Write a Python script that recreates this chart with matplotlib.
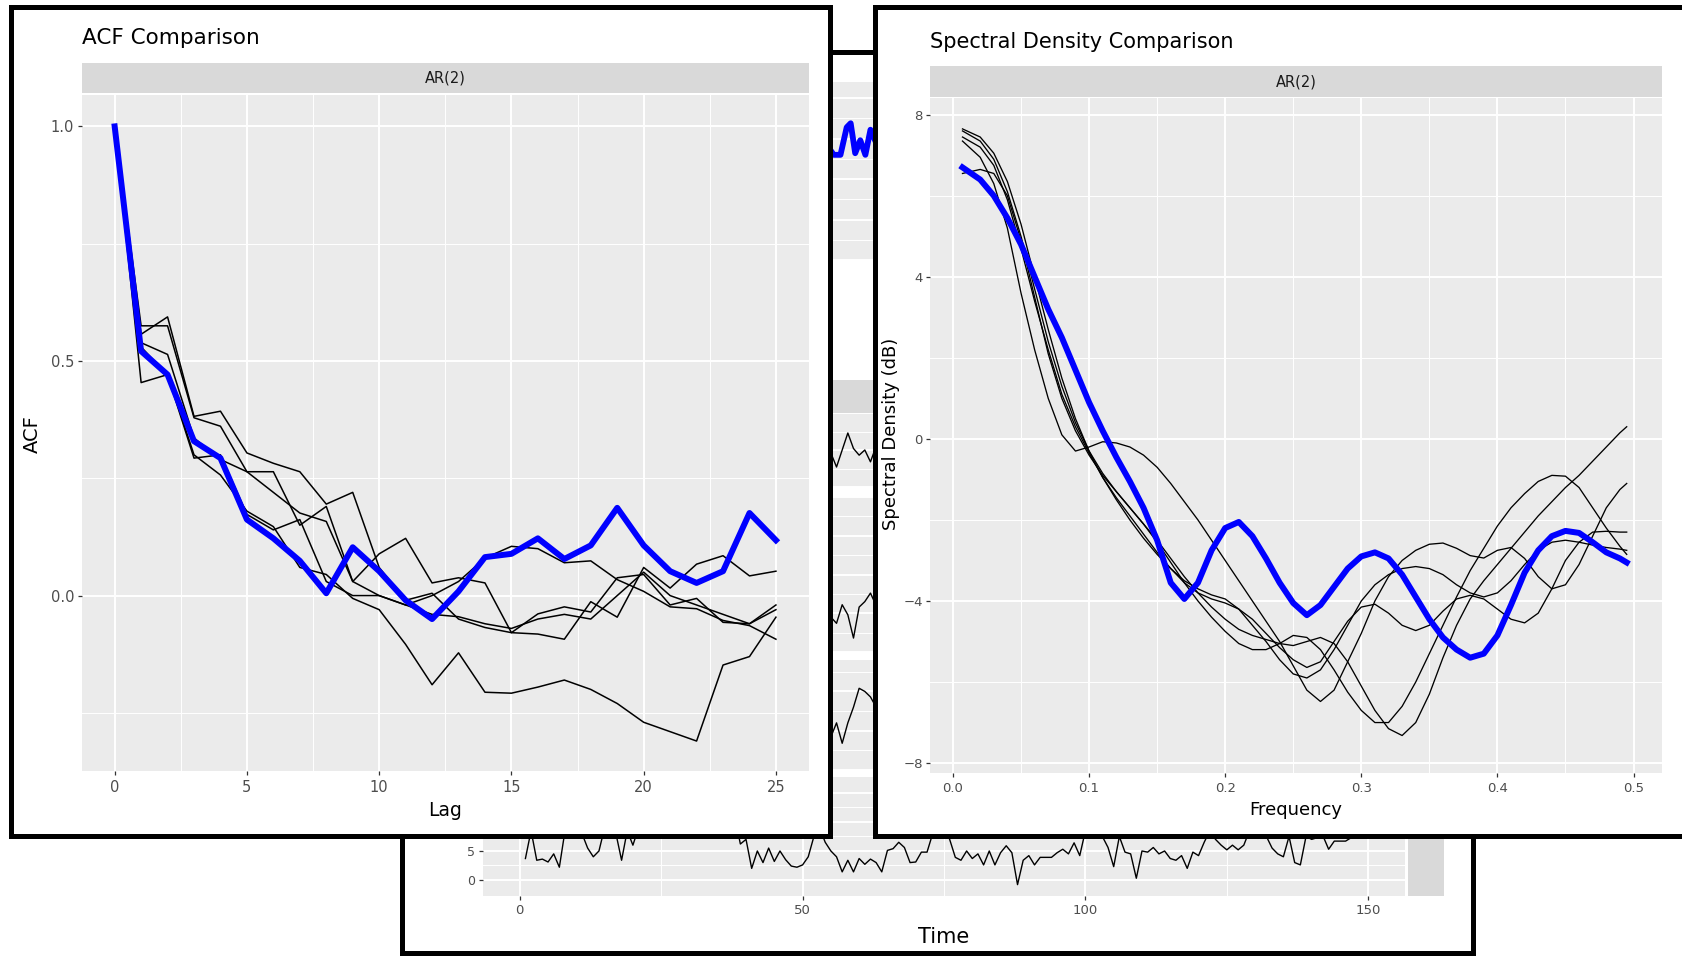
import numpy as np
import matplotlib.pyplot as plt
from matplotlib.patches import Rectangle
from matplotlib.ticker import FixedLocator

W, H = 1683, 956

# ---- ACF comparison data (lags 0..25) ----
lags = list(range(26))
acf_obs = [1.0, 0.521, 0.471, 0.329, 0.293, 0.162, 0.122, 0.074, 0.005, 0.103, 0.052, -0.01,
           -0.05, 0.009, 0.082, 0.089, 0.122, 0.078, 0.107, 0.187, 0.107, 0.052, 0.027, 0.052,
           0.176, 0.118]
acf_sim1 = [1.0, 0.557, 0.594, 0.382, 0.393, 0.304, 0.282, 0.264, 0.195, 0.22, 0.06, -0.01,
            0.005, -0.05, -0.068, -0.079, -0.082, -0.093, -0.013, -0.046, 0.06, 0.016, 0.067,
            0.085, 0.042, 0.052]
acf_sim2 = [1.0, 0.575, 0.575, 0.379, 0.361, 0.264, 0.264, 0.15, 0.19, 0.03, 0.089, 0.122,
            0.027, 0.038, 0.027, -0.079, -0.039, -0.024, -0.035, 0.038, 0.045, -0.02, -0.006,
            -0.057, -0.06, -0.02]
acf_sim3 = [1.0, 0.539, 0.514, 0.336, 0.29, 0.264, 0.22, 0.176, 0.158, 0.03, 0.0, -0.02, 0.0,
            0.03, 0.08, 0.105, 0.10, 0.07, 0.074, 0.034, 0.009, -0.024, -0.028, -0.053, -0.064,
            -0.093]
acf_sim4 = [1.0, 0.454, 0.471, 0.30, 0.257, 0.18, 0.147, 0.06, 0.045, -0.006, -0.03, -0.104,
            -0.19, -0.122, -0.206, -0.208, -0.195, -0.18, -0.2, -0.23, -0.27, -0.29, -0.31,
            -0.148, -0.13, -0.046]
acf_sim5 = [1.0, 0.53, 0.47, 0.293, 0.30, 0.173, 0.14, 0.162, 0.03, 0.0, 0.0, -0.02, -0.04,
            -0.045, -0.06, -0.07, -0.05, -0.04, -0.05, 0.0, 0.05, 0.0, -0.02, -0.04, -0.06, -0.03]

# ---- spectral density data (dB) ----
freq = [0.007] + [round(0.02 + 0.01 * i, 2) for i in range(48)] + [0.495]
spec_obs = [6.7, 6.4, 6.0, 5.45, 4.8, 4.0, 3.2, 2.5, 1.7, 0.9,
            0.2, -0.45, -1.05, -1.7, -2.5, -3.55, -3.95, -3.55, -2.75, -2.2,
            -2.05, -2.4, -2.95, -3.55, -4.05, -4.35, -4.1, -3.65, -3.2, -2.9,
            -2.8, -2.95, -3.35, -3.9, -4.45, -4.9, -5.2, -5.4, -5.3, -4.85,
            -4.1, -3.3, -2.75, -2.4, -2.27, -2.32, -2.55, -2.8, -2.95, -3.05]
spec_sim1 = [7.35, 6.95, 6.3, 5.2, 3.6, 2.2, 1.0, 0.1, -0.3, -0.2,
             -0.07, -0.1, -0.2, -0.4, -0.7, -1.1, -1.55, -2.0, -2.5, -3.0,
             -3.5, -4.0, -4.5, -5.0, -5.6, -6.2, -6.48, -6.2, -5.5, -4.8,
             -4.0, -3.4, -3.0, -2.75, -2.6, -2.57, -2.7, -2.88, -2.94, -2.75,
             -2.68, -2.95, -3.4, -3.7, -3.6, -3.1, -2.4, -1.7, -1.25, -1.1]
spec_sim2 = [7.45, 7.2, 6.75, 5.9, 4.7, 3.4, 2.2, 1.1, 0.3, -0.35,
             -0.95, -1.45, -1.9, -2.35, -2.8, -3.2, -3.55, -3.8, -3.95, -4.05,
             -4.2, -4.45, -4.8, -5.15, -5.45, -5.64, -5.5, -5.0, -4.5, -4.15,
             -4.08, -4.3, -4.6, -4.73, -4.6, -4.25, -3.95, -3.86, -3.95, -4.2,
             -4.45, -4.54, -4.3, -3.7, -3.0, -2.55, -2.3, -2.28, -2.3, -2.3]
spec_sim3 = [7.6, 7.35, 6.9, 6.1, 5.0, 3.7, 2.4, 1.3, 0.4, -0.3,
             -0.85, -1.3, -1.7, -2.1, -2.55, -3.05, -3.55, -4.0, -4.4, -4.75,
             -5.05, -5.2, -5.2, -5.05, -4.85, -4.9, -5.2, -5.7, -6.25, -6.7,
             -7.0, -7.0, -6.6, -6.0, -5.3, -4.6, -3.9, -3.25, -2.7, -2.15,
             -1.7, -1.35, -1.05, -0.9, -0.92, -1.2, -1.7, -2.2, -2.65, -2.85]
spec_sim4 = [6.55, 6.65, 6.55, 6.0, 4.9, 3.5, 2.1, 1.0, 0.2, -0.4,
             -0.9, -1.3, -1.7, -2.1, -2.5, -2.95, -3.4, -3.8, -4.15, -4.45,
             -4.7, -4.85, -4.95, -5.05, -5.1, -5.0, -4.9, -5.05, -5.5, -6.1,
             -6.7, -7.15, -7.32, -7.0, -6.3, -5.4, -4.6, -3.95, -3.5, -3.1,
             -2.7, -2.3, -1.9, -1.55, -1.2, -0.9, -0.55, -0.2, 0.15, 0.3]
spec_sim5 = [7.65, 7.45, 7.05, 6.35, 5.3, 4.0, 2.7, 1.5, 0.5, -0.3,
             -0.95, -1.5, -2.0, -2.45, -2.85, -3.2, -3.5, -3.7, -3.85, -3.95,
             -4.2, -4.6, -5.0, -5.45, -5.8, -5.9, -5.7, -5.2, -4.6, -4.0,
             -3.6, -3.35, -3.2, -3.15, -3.2, -3.35, -3.6, -3.8, -3.9, -3.8,
             -3.5, -3.1, -2.75, -2.55, -2.5, -2.55, -2.62, -2.68, -2.72, -2.75]

# ---- background time series panel (mostly hidden) ----
time_e = list(range(1, 151))
series_e = [3.7, 8.5, 3.4, 3.6, 3.1, 4.5, 2.2, 8.5, 10, 9, 8, 5.5, 4.0, 5.0, 9, 10, 8, 3.4, 8.5,
            6.0, 9, 10, 11, 9, 12, 10, 11, 13, 10, 12, 11, 9, 10, 12, 11, 10, 9, 11, 6.2, 7.0,
            2.0, 5.0, 3.0, 5.5, 3.2, 5.0, 3.5, 2.4, 2.2, 2.6, 4.0, 7.5, 9, 6.5, 5.0, 4.0, 1.4,
            3.4, 1.4, 3.7, 2.7, 3.6, 3.0, 1.4, 5.1, 5.4, 6.5, 5.6, 3.0, 3.1, 4.8, 4.8, 8, 10, 9,
            7, 3.9, 3.4, 5.0, 3.7, 4.5, 2.6, 5.0, 2.6, 4.7, 5.9, 4.7, -0.8, 3.4, 4.2, 2.6, 3.9,
            3.9, 3.9, 4.7, 5.3, 4.5, 6.4, 4.2, 8.5, 10, 8, 7.5, 5.6, 2.3, 7.5, 4.8, 4.5, 0.3,
            5.0, 4.8, 5.6, 4.5, 5.0, 3.7, 3.4, 4.2, 2.0, 4.8, 4.2, 6.5, 8.5, 7.0, 6.0, 5.2, 6.0,
            5.2, 6.0, 8.5, 10, 9, 7.5, 5.5, 4.5, 4.0, 7.5, 3.0, 2.6, 7.5, 7.0, 7.3, 7.6, 5.3,
            6.7, 6.7, 6.7, 7.3, 9, 10, 9]
time_a = [53, 54.9, 55.5, 56.7, 57.8, 58.5, 59.3, 60.2, 61.1, 62.0, 63]
series_a = [14.2, 13.6, 13.0, 13.0, 16.4, 16.9, 13.2, 14.8, 13.0, 16.1, 14.5]
time_bcd = [53, 54, 55, 56, 57, 58, 59, 60, 61, 62, 63, 64]
series_b = [5.0, 5.5, 4.6, 2.7, 5.0, 7.3, 5.2, 4.3, 5.0, 3.4, 5.5, 4.8]
series_c = [5.5, 5.0, 4.5, 3.7, 6.1, 4.8, 1.8, 5.8, 6.5, 7.6, 6.0, 5.2]
series_d = [5.5, 5.0, 4.2, 6.0, 3.4, 6.0, 8.0, 10.4, 10.0, 9.3, 8.0, 7.2]


def box(x0, y0, x1, y1):
    # pixel box (top-left origin) -> figure fraction rect
    return [x0 / W, 1 - y1 / H, (x1 - x0) / W, (y1 - y0) / H]


def frame(x0, y0, x1, y1, z):
    r = Rectangle((x0 / W, 1 - y1 / H), (x1 - x0) / W, (y1 - y0) / H,
                  transform=fig.transFigure, facecolor='white', edgecolor='black',
                  lw=3.6, zorder=z)
    fig.add_artist(r)


def gg_style(ax, fs, z):
    ax.set_zorder(z)
    ax.set_facecolor('#EBEBEB')
    for s in ax.spines.values():
        s.set_visible(False)
    ax.set_axisbelow(True)
    ax.grid(True, which='major', color='white', lw=1.4)
    ax.grid(True, which='minor', color='white', lw=0.7)
    ax.tick_params(which='major', length=2.9, width=0.9, color='#333333',
                   labelcolor='#4D4D4D', labelsize=fs, pad=2.5)
    ax.tick_params(which='minor', length=0)


def strip(rect, label, z):
    s = fig.add_axes(rect)
    s.set_zorder(z)
    s.set_facecolor('#D9D9D9')
    s.set_xticks([])
    s.set_yticks([])
    for sp in s.spines.values():
        sp.set_visible(False)
    if label:
        s.text(0.5, 0.5, label, ha='center', va='center', fontsize=10.5, color='#1A1A1A',
               transform=s.transAxes)
    return s


fig = plt.figure(figsize=(W / 100, H / 100), dpi=100)

# ================= background panel =================
frame(402, 52, 1473, 953, 1)
XL = (-6.5, 156.5)

axa = fig.add_axes(box(483, 82, 1405, 260))
gg_style(axa, 9, 2)
axa.plot(time_a, series_a, color='#0000FF', lw=4.2, solid_capstyle='round')
axa.set_xlim(*XL)
axa.set_ylim(0, 22)
axa.yaxis.set_major_locator(FixedLocator([0, 5, 10, 15, 20]))
axa.yaxis.set_minor_locator(FixedLocator([2.5, 7.5, 12.5, 17.5]))
axa.set_xticks([0, 50, 100, 150])
axa.tick_params(labelleft=False, labelbottom=False, length=0)

strip(box(483, 380, 1405, 413), '', 2)

for rect, tt, yy, yl in [(box(483, 413, 1405, 487), time_bcd, series_b, (0, 10)),
                         (box(483, 497, 1405, 652), time_bcd, series_c, (0, 20)),
                         (box(483, 660, 1405, 770), time_bcd, series_d, (0, 14))]:
    axb = fig.add_axes(rect)
    gg_style(axb, 9, 2)
    axb.plot(tt, yy, color='black', lw=1.0)
    axb.set_xlim(*XL)
    axb.set_ylim(*yl)
    axb.yaxis.set_major_locator(FixedLocator(np.arange(0, yl[1] + 1, 5)))
    axb.yaxis.set_minor_locator(FixedLocator(np.arange(2.5, yl[1], 5)))
    axb.set_xticks([0, 50, 100, 150])
    axb.tick_params(labelleft=False, labelbottom=False, length=0)

axe = fig.add_axes(box(483, 777, 1405, 896))
gg_style(axe, 9, 2)
axe.plot(time_e, series_e, color='black', lw=1.0)
axe.set_xlim(*XL)
axe.set_ylim(-2.76, 17.75)
axe.set_xticks([0, 50, 100, 150])
axe.xaxis.set_minor_locator(FixedLocator([25, 75, 125]))
axe.set_yticks([0, 5, 10, 15])
axe.yaxis.set_minor_locator(FixedLocator([2.5, 7.5, 12.5]))
axe.tick_params(axis='x', labelsize=9.5)
strip(box(1408, 777, 1444, 896), '', 2)
fig.text(944 / W, 1 - 937 / H, 'Time', ha='center', va='center', fontsize=15, zorder=2.5)

# ================= ACF panel =================
frame(11, 7, 830, 836, 3)
ax1 = fig.add_axes(box(81.6, 94.5, 809, 770.6))
gg_style(ax1, 10.5, 4)
for ys in [acf_sim1, acf_sim2, acf_sim3, acf_sim4, acf_sim5]:
    ax1.plot(lags, ys, color='black', lw=1.1)
ax1.plot(lags, acf_obs, color='#0000FF', lw=4.3)
ax1.set_xlim(-1.25, 26.25)
ax1.set_ylim(-0.373, 1.068)
ax1.set_xticks([0, 5, 10, 15, 20, 25])
ax1.xaxis.set_minor_locator(FixedLocator([2.5, 7.5, 12.5, 17.5, 22.5]))
ax1.set_yticks([0.0, 0.5, 1.0])
ax1.set_yticklabels(['0.0', '0.5', '1.0'])
ax1.yaxis.set_minor_locator(FixedLocator([-0.25, 0.25, 0.75]))
ax1.tick_params(axis='x', pad=4)
strip(box(81.6, 63, 809, 93), 'AR(2)', 4)
fig.text(81.6 / W, 1 - 38.5 / H, 'ACF Comparison', ha='left', va='center', fontsize=15.5,
         zorder=4.5)
fig.text(445 / W, 1 - 811 / H, 'Lag', ha='center', va='center', fontsize=13.5, zorder=4.5)
fig.text(32 / W, 1 - 434 / H, 'ACF', ha='center', va='center', rotation=90, fontsize=14,
         zorder=4.5)

# ================= spectral density panel =================
frame(875, 7, 1700, 836, 5)
ax2 = fig.add_axes(box(930.5, 97.7, 1662.5, 772.8))
gg_style(ax2, 9.5, 6)
for ys in [spec_sim1, spec_sim2, spec_sim3, spec_sim4, spec_sim5]:
    ax2.plot(freq, ys, color='black', lw=0.95)
ax2.plot(freq, spec_obs, color='#0000FF', lw=4.3)
ax2.set_xlim(-0.0165, 0.5213)
ax2.set_ylim(-8.24, 8.42)
ax2.set_xticks([0.0, 0.1, 0.2, 0.3, 0.4, 0.5])
ax2.set_xticklabels(['0.0', '0.1', '0.2', '0.3', '0.4', '0.5'])
ax2.xaxis.set_minor_locator(FixedLocator([0.05, 0.15, 0.25, 0.35, 0.45]))
ax2.set_yticks([-8, -4, 0, 4, 8])
ax2.yaxis.set_minor_locator(FixedLocator([-6, -2, 2, 6]))
ax2.tick_params(axis='x', pad=4)
strip(box(930.5, 66.5, 1662.5, 96.6), 'AR(2)', 6)
fig.text(930.5 / W, 1 - 42 / H, 'Spectral Density Comparison', ha='left', va='center',
         fontsize=15, zorder=6.5)
fig.text(1296 / W, 1 - 810 / H, 'Frequency', ha='center', va='center', fontsize=13,
         zorder=6.5)
fig.text(891 / W, 1 - 434 / H, 'Spectral Density (dB)', ha='center', va='center',
         rotation=90, fontsize=13, zorder=6.5)

fig.savefig('out.png', dpi=100)
